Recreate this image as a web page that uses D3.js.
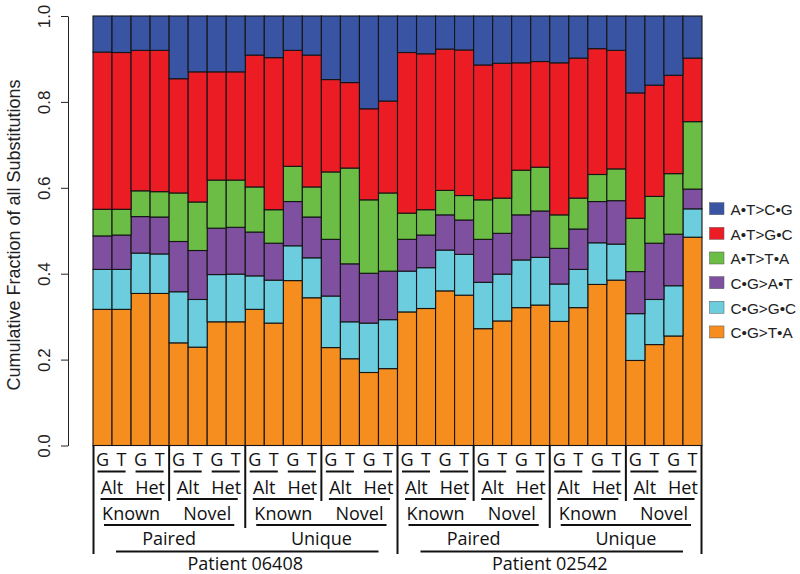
<!DOCTYPE html>
<html><head><meta charset="utf-8">
<script src="https://cdn.jsdelivr.net/npm/d3@7"></script>
<style>body{margin:0;background:#fff}svg{display:block}</style>
</head><body>
<svg id="c" width="800" height="574"></svg>
<script>
// Series (bottom to top), fraction per bar (32 bars)
const seriesNames = ["C\u2022G>T\u2022A","C\u2022G>G\u2022C","C\u2022G>A\u2022T","A\u2022T>T\u2022A","A\u2022T>G\u2022C","A\u2022T>C\u2022G"];
const CG_TA = [.317,.317,.354,.354,.239,.229,.288,.288,.317,.285,.384,.344,.228,.202,.170,.179,
               .311,.319,.360,.350,.272,.290,.321,.327,.289,.321,.375,.385,.198,.235,.255,.485];
const CG_GC = [.093,.093,.094,.092,.119,.111,.110,.111,.078,.100,.081,.093,.120,.086,.115,.114,
               .095,.095,.095,.095,.108,.109,.111,.111,.087,.089,.097,.084,.109,.105,.117,.066];
const CG_AT = [.078,.080,.085,.086,.117,.114,.108,.109,.102,.086,.103,.095,.132,.135,.116,.113,
               .074,.076,.082,.080,.100,.095,.105,.108,.083,.094,.096,.101,.098,.131,.120,.046];
const AT_TA = [.062,.060,.060,.059,.113,.113,.112,.110,.105,.078,.082,.070,.157,.223,.171,.182,
               .061,.059,.057,.057,.092,.082,.104,.102,.078,.072,.063,.074,.124,.109,.141,.157];
const AT_GC = [.366,.365,.327,.329,.266,.303,.252,.252,.307,.354,.270,.307,.215,.199,.212,.214,
               .374,.363,.329,.339,.314,.314,.250,.246,.354,.326,.293,.276,.292,.259,.229,.148];
const AT_CG = [.084,.085,.080,.080,.146,.130,.130,.130,.091,.097,.080,.091,.148,.155,.216,.198,
               .085,.088,.077,.079,.114,.110,.109,.106,.109,.098,.076,.080,.179,.161,.138,.098];
const colors = ["#f68d1f","#6ccddf","#7f509f","#6bbd45","#ec1c24","#3a54a4"];
const yTicks = [0, 0.2, 0.4, 0.6, 0.8, 1.0];
// hierarchical category labels
const level1 = ["G","T"];
const level2 = ["Alt","Het"];
const level3 = ["Known","Novel"];
const level4 = ["Paired","Unique"];
const patients = ["Patient 06408","Patient 02542"];
const yTitle = "Cumulative Fraction of all Substitutions";

const svg = d3.select("#c");
const N = CG_TA.length;
const table = d3.range(N).map(i => {
  const o = {i};
  [CG_TA,CG_GC,CG_AT,AT_TA,AT_GC,AT_CG].forEach((s,k)=>o[seriesNames[k]]=s[i]);
  return o;
});
const x = d3.scaleBand().domain(d3.range(N)).range([93, 702]).padding(0);
const y = d3.scaleLinear().domain([0,1]).range([445.5, 16]);
const stack = d3.stack().keys(seriesNames)(table);

svg.append("g").selectAll("g").data(stack).join("g")
  .attr("fill",(d,k)=>colors[k])
  .selectAll("rect").data(d=>d).join("rect")
  .attr("x",d=>x(d.data.i)).attr("width",x.bandwidth())
  .attr("y",d=>y(d[1])).attr("height",d=>y(d[0])-y(d[1]))
  .attr("stroke","#151515").attr("stroke-width",1.1);

// y axis
const ax = svg.append("g").attr("transform","translate(68,0)")
  .call(d3.axisLeft(y).tickValues(yTicks).tickFormat(d3.format(".1f")).tickSize(7).tickSizeOuter(0));
ax.select(".domain").attr("stroke","#222").attr("stroke-width",1);
ax.selectAll(".tick line").attr("stroke","#222");
ax.selectAll(".tick text").attr("transform","rotate(-90)")
  .attr("x",0).attr("y",-18).attr("dy",0).attr("text-anchor","middle")
  .style("font-family","Liberation Sans, Arial, sans-serif").style("font-size","17px").attr("fill","#222");
svg.append("text").attr("transform","translate(20,235) rotate(-90)")
  .attr("text-anchor","middle").style("font-family","Liberation Sans, Arial, sans-serif")
  .style("font-size","18px").attr("fill","#222").text(yTitle);

// legend
const leg = svg.append("g");
const legOrder = d3.range(seriesNames.length).reverse();
legOrder.forEach((k,r)=>{
  const yy = 202.7 + r*24.65;
  leg.append("rect").attr("x",709.5).attr("y",yy).attr("width",14.5).attr("height",12)
    .attr("fill",colors[k]).attr("stroke","#555").attr("stroke-width",0.5);
  leg.append("text").attr("x",730.5).attr("y",yy+12.2).text(seriesNames[k])
    .style("font-family","Liberation Sans, Arial, sans-serif").style("font-size","15.3px").attr("fill","#222");
});

// category table
const tg = svg.append("g");
const bw = x.bandwidth();
const fnt = "Open Sans, sans-serif";
const lab = (tx,ty,t)=>tg.append("text").attr("x",tx).attr("y",ty).attr("text-anchor","middle")
  .style("font-family",fnt).style("font-size","18px").attr("fill","#111").text(t);
const hl = (x1,x2,yy)=>tg.append("line").attr("x1",x1).attr("x2",x2).attr("y1",yy).attr("y2",yy)
  .attr("stroke","#111").attr("stroke-width",2);
const vl = (xx,y1,y2)=>tg.append("line").attr("x1",xx).attr("x2",xx).attr("y1",y1).attr("y2",y2)
  .attr("stroke","#111").attr("stroke-width",2);
const span = (start,len)=>[x(start), x(start)+len*bw];

for(let i=0;i<N;i++) lab(x(i)+bw/2, 465.5, level1[i%2]);
for(let p=0;p<N/2;p++){ const [a,b]=span(p*2,2); hl(a+4.5,b-5.5,471.5); lab((a+b)/2, 493.5, level2[p%2]); }
for(let g=0;g<N/4;g++){ const [a,b]=span(g*4,4); hl(a+7.5,b-7.5,499); lab((a+b)/2, 519.5, level3[g%2]); }
for(let g=0;g<N/8;g++){ const [a,b]=span(g*8,8); hl(a+11,b-11,525); lab((a+b)/2, 544.5, level4[g%2]); }
for(let g=0;g<N/16;g++){ const [a,b]=span(g*16,16); hl(a+23,b-19,551.5); lab((a+b)/2, 569.5, patients[g]); }
// separators
for(let g=1;g<N/4;g++){ if(g%2===1) vl(x(g*4),445,501); }
for(let g=1;g<N/8;g++){ if(g%2===1) vl(x(g*8),445,528); }
vl(x(0)+0.5,445,554); vl(x(16),445,554); vl(x(N-1)+bw-0.5,445,554);
</script>
</body></html>
